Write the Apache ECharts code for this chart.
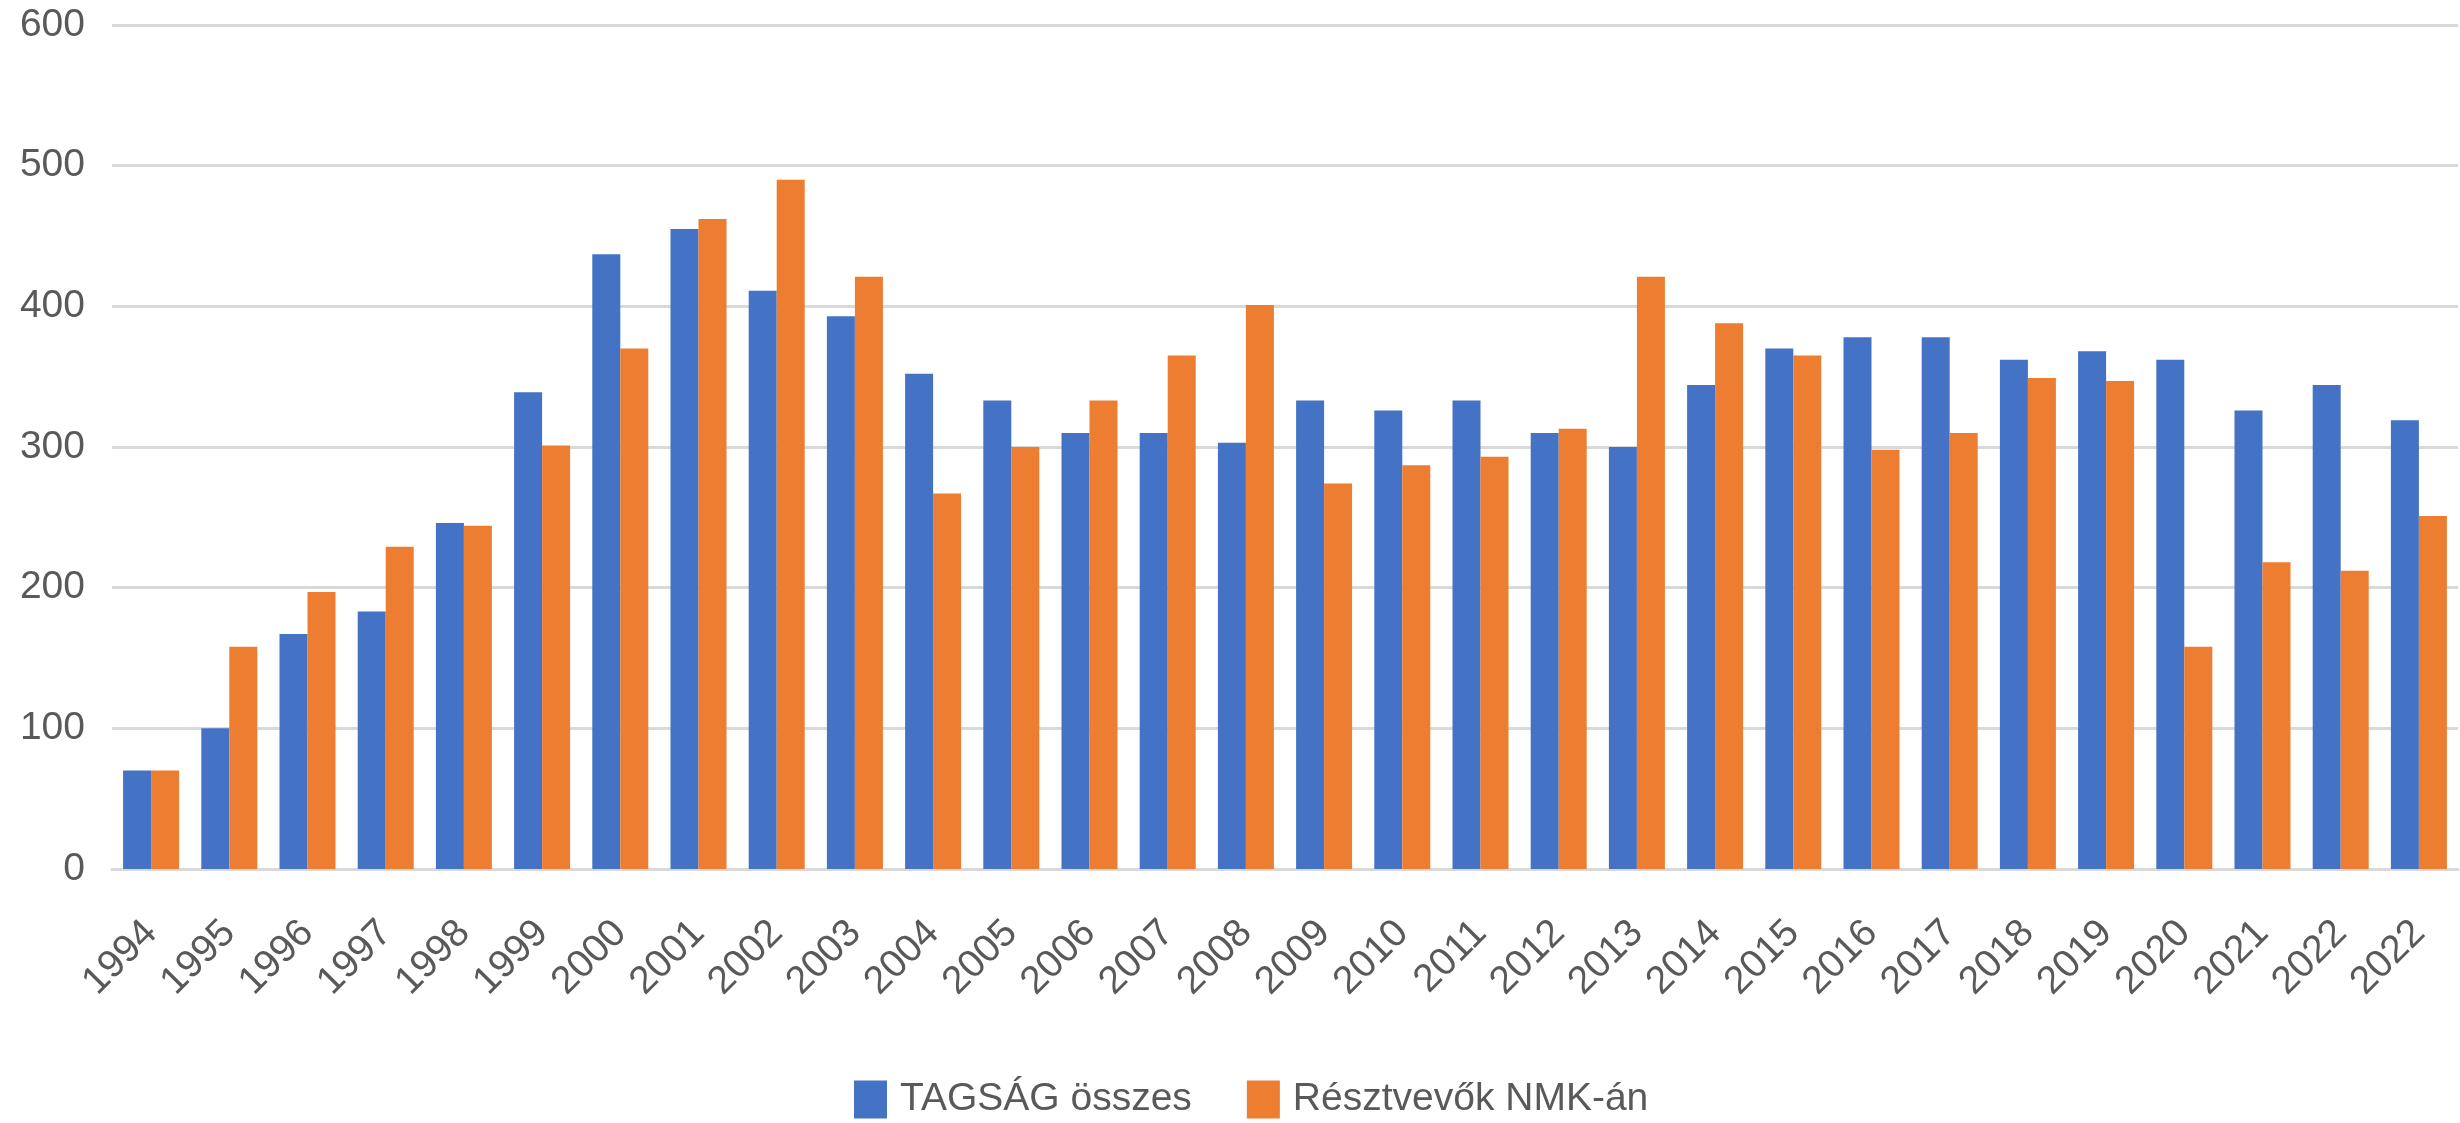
<!DOCTYPE html>
<html>
<head>
<meta charset="utf-8">
<script src="https://cdn.jsdelivr.net/npm/echarts@6/dist/echarts.min.js"></script>
<style>
html,body{margin:0;padding:0;background:#fff;}
#chart{width:2460px;height:1123px;}
</style>
</head>
<body>
<div id="chart"></div>
<script>
var categories = ['1994','1995','1996','1997','1998','1999','2000','2001','2002','2003','2004','2005','2006','2007','2008','2009','2010','2011','2012','2013','2014','2015','2016','2017','2018','2019','2020','2021','2022','2022'];
var tagsag = [70,100,167,183,246,339,437,455,411,393,352,333,310,310,303,333,326,333,310,300,344,370,378,378,362,368,362,326,344,319];
var resztvevok = [70,158,197,229,244,301,370,462,490,421,267,300,333,365,401,274,287,293,313,421,388,365,298,310,349,347,158,218,212,251];
var seriesNames = ['TAGSÁG összes','Résztvevők NMK-án'];
var yTicks = {min:0, max:600, interval:100};

var chart = echarts.init(document.getElementById('chart'));
var font = '"Liberation Sans", Arial, sans-serif';
chart.setOption({
  animation:false,
  backgroundColor:'#ffffff',
  grid:{left:112, right:2, top:25, bottom:254, containLabel:false},
  legend:{
    left:854, top:1080, padding:0,
    itemWidth:33, itemHeight:38, itemGap:55,
    icon:'rect',
    textStyle:{fontFamily:font, fontSize:39, color:'#595959', padding:[0,0,0,8]},
    data:seriesNames
  },
  xAxis:{
    type:'category',
    data:categories,
    axisLine:{lineStyle:{color:'#d9d9d9', width:3}},
    axisTick:{show:false},
    axisLabel:{rotate:45, margin:58, interval:0, fontFamily:font, fontSize:39, color:'#595959'}
  },
  yAxis:{
    type:'value',
    min:yTicks.min, max:yTicks.max, interval:yTicks.interval,
    axisLine:{show:false},
    axisTick:{show:false},
    splitLine:{lineStyle:{color:'#d9d9d9', width:3}},
    axisLabel:{margin:27, fontFamily:font, fontSize:39, color:'#595959'}
  },
  series:[
    {name:seriesNames[0], type:'bar', data:tagsag, barWidth:28, barGap:'0%', itemStyle:{color:'#4472C4'}},
    {name:seriesNames[1], type:'bar', data:resztvevok, barWidth:28, barGap:'0%', itemStyle:{color:'#ED7D31'}}
  ]
});
</script>
</body>
</html>
